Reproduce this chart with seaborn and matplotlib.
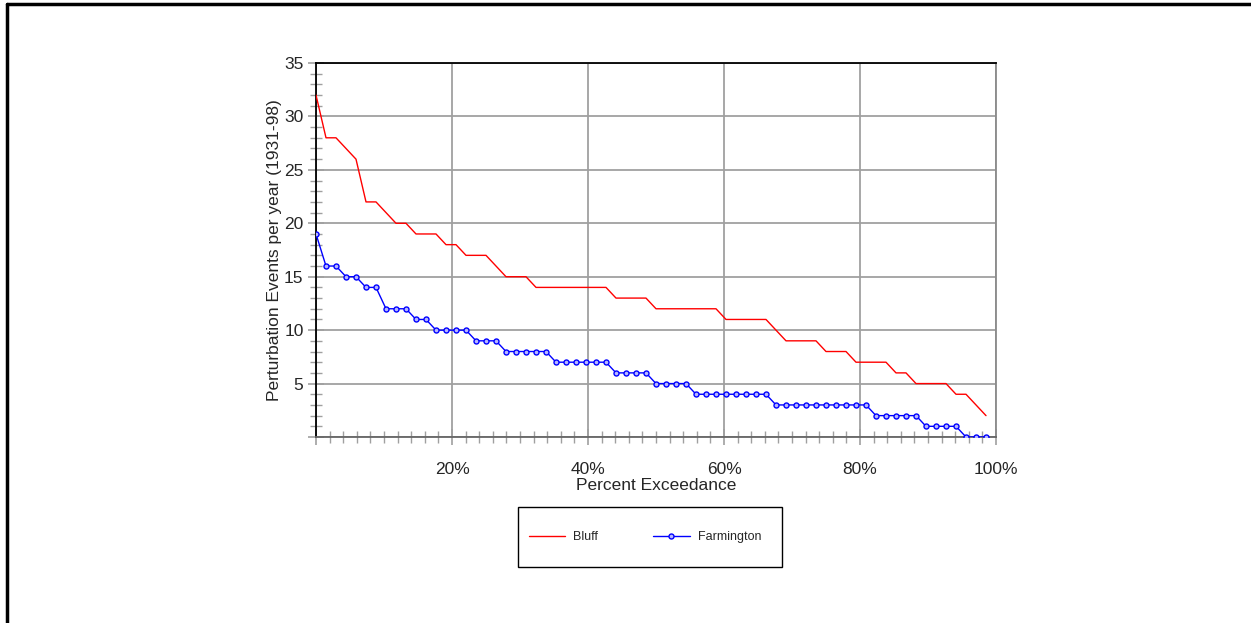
import numpy as np
import pandas as pd
import matplotlib
matplotlib.use('Agg')
import matplotlib.pyplot as plt
from matplotlib.lines import Line2D
from matplotlib.patches import Rectangle
from matplotlib.ticker import MultipleLocator, FuncFormatter
import seaborn as sns

# Events per year, sorted high to low (1931-98, 68 years)
bluff = [32, 28, 28, 27, 26, 22, 22, 21, 20, 20, 19, 19, 19, 18, 18, 17, 17, 17,
         16, 15, 15, 15, 14, 14, 14, 14, 14, 14, 14, 14, 13, 13, 13, 13, 12, 12,
         12, 12, 12, 12, 12, 11, 11, 11, 11, 11, 10, 9, 9, 9, 9, 8, 8, 8, 7, 7,
         7, 7, 6, 6, 5, 5, 5, 5, 4, 4, 3, 2]
farmington = [19, 16, 16, 15, 15, 14, 14, 12, 12, 12, 11, 11, 10, 10, 10, 10, 9, 9,
              9, 8, 8, 8, 8, 8, 7, 7, 7, 7, 7, 7, 6, 6, 6, 6, 5, 5, 5, 5, 4, 4, 4,
              4, 4, 4, 4, 4, 3, 3, 3, 3, 3, 3, 3, 3, 3, 3, 2, 2, 2, 2, 2, 1, 1, 1,
              1, 0, 0, 0]
n_years = len(bluff)
exceedance = [100.0 * i / n_years for i in range(n_years)]

df = pd.DataFrame({'Exceedance': exceedance, 'Bluff': bluff, 'Farmington': farmington})

sns.set_style('white')
plt.rcParams['font.family'] = ['Liberation Sans', 'DejaVu Sans']

W, H = 1251, 623
fig = plt.figure(figsize=(W / 100, H / 100), dpi=100)
ax = fig.add_axes([316 / W, 1 - 437 / H, (996 - 316) / W, (437 - 63) / H])

sns.lineplot(data=df, x='Exceedance', y='Bluff', ax=ax, color='red', lw=1,
             label='Bluff', zorder=3)
sns.lineplot(data=df, x='Exceedance', y='Farmington', ax=ax, color='blue', lw=1,
             marker='o', markersize=3.6, markerfacecolor='#b8b8ff',
             markeredgecolor='blue', markeredgewidth=1, label='Farmington', zorder=4)

ax.set_xlim(0, 100)
ax.set_ylim(0, 35)
ax.xaxis.set_major_locator(MultipleLocator(20))
ax.xaxis.set_minor_locator(MultipleLocator(2))
ax.yaxis.set_major_locator(MultipleLocator(5))
ax.yaxis.set_minor_locator(MultipleLocator(1))
ax.xaxis.set_major_formatter(FuncFormatter(lambda v, p: '' if v == 0 else f'{v:.0f}%'))
ax.yaxis.set_major_formatter(FuncFormatter(lambda v, p: '' if v == 0 else f'{v:.0f}'))

ax.grid(True, which='major', color='#a0a0a0', lw=1.3)
ax.tick_params(which='both', direction='inout', color='#a0a0a0', labelsize=12.5,
               left=True, bottom=True)
ax.tick_params(which='major', length=12, width=1.2)
ax.tick_params(which='minor', length=9, width=1)
ax.tick_params(axis='x', which='major', pad=12)
ax.tick_params(axis='y', which='major', pad=3)

for side in ['left', 'top']:
    ax.spines[side].set_color('black')
    ax.spines[side].set_linewidth(1.3)
ax.spines['bottom'].set_color('#666666')
ax.spines['bottom'].set_linewidth(1.3)
ax.spines['right'].set_color('#8a8a8a')
ax.spines['right'].set_linewidth(1.3)

ax.set_xlabel('Percent Exceedance', fontsize=12.5, labelpad=1)
ax.set_ylabel('Perturbation Events per year (1931-98)', fontsize=12.5, labelpad=1.5)

ax.get_legend().remove()
handles, labels = ax.get_legend_handles_labels()
fig.add_artist(Rectangle((518 / W, 1 - 567 / H), (782 - 518) / W, 60 / H,
                         transform=fig.transFigure, fill=False, edgecolor='black', lw=1))
leg = fig.legend(handles, labels, loc='center left', ncol=2,
                 bbox_to_anchor=(529 / W, 1 - 537 / H),
                 fontsize=9, frameon=False, borderpad=0, borderaxespad=0,
                 handlelength=2.9, handletextpad=0.65, columnspacing=4.4)

# page frame (top and left edges)
fig.add_artist(Line2D([7 / W, 1], [1 - 4 / H, 1 - 4 / H], color='black', lw=2.5,
                      transform=fig.transFigure))
fig.add_artist(Line2D([7 / W, 7 / W], [0, 1 - 4 / H], color='black', lw=2.5,
                      transform=fig.transFigure))

fig.savefig('out.png', dpi=100)
